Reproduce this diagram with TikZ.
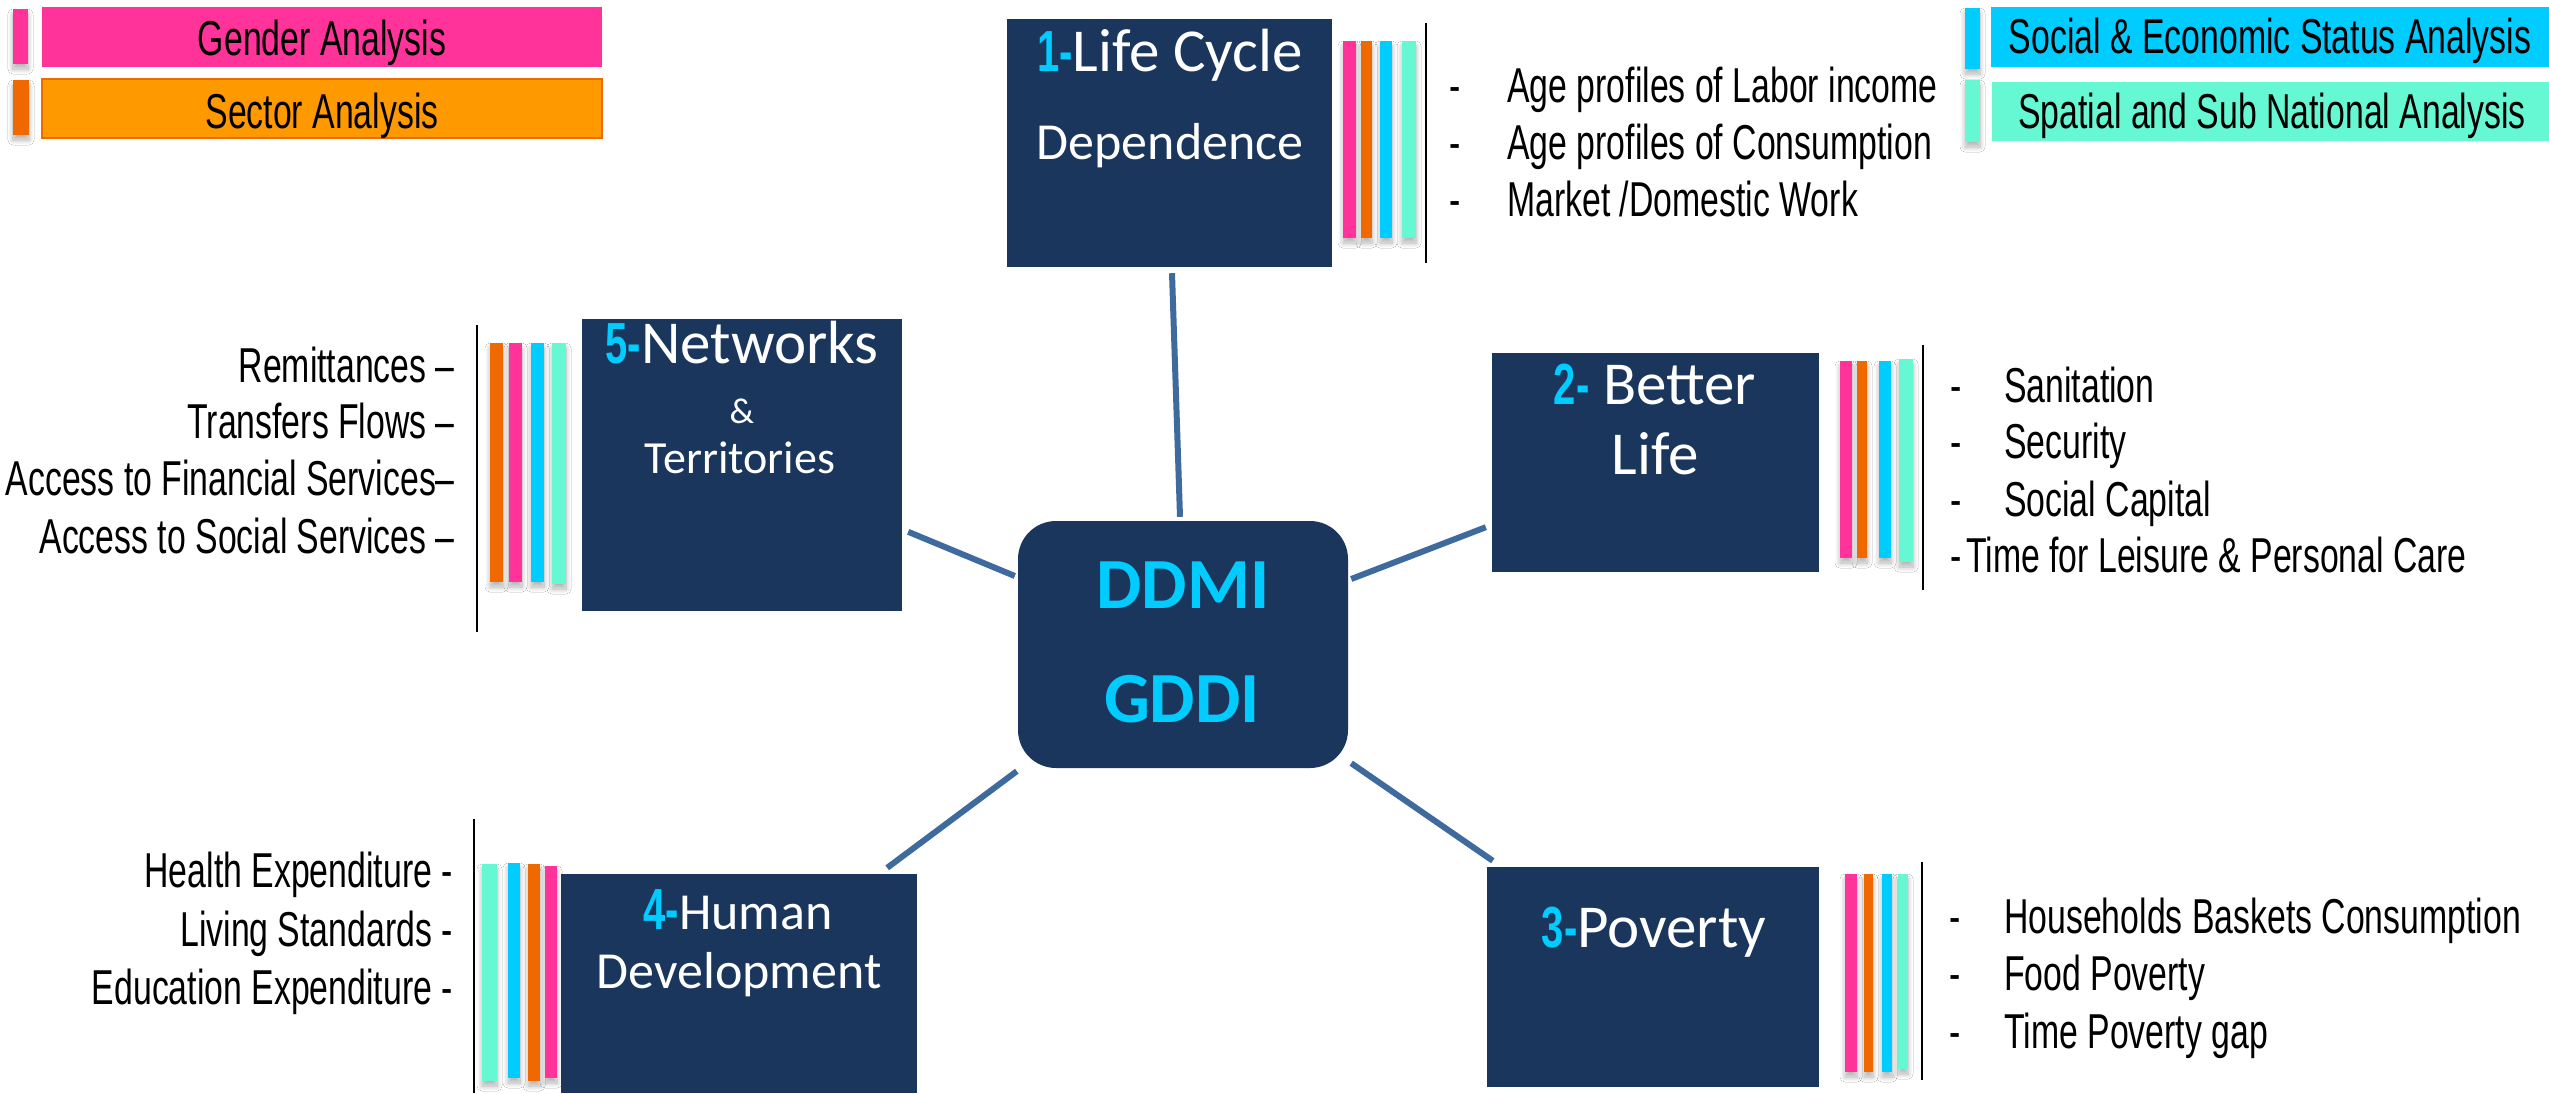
\documentclass[tikz,border=0pt]{standalone}
\usepackage{fontspec}
\setmainfont{Carlito}
\newfontfamily\agency[FakeStretch=0.69]{Liberation Sans}
\usetikzlibrary{calc,shadows.blur}

\definecolor{navy}{RGB}{26,54,93}
\definecolor{linkc}{RGB}{62,106,158}
\definecolor{pinkc}{RGB}{255,51,153}
\definecolor{orangec}{RGB}{240,104,0}
\definecolor{ambc}{RGB}{255,153,0}
\definecolor{cyanc}{RGB}{0,204,255}
\definecolor{mintc}{RGB}{102,247,211}

% cyan step number in front of a box title
\newcommand\stepno[1]{{\color{cyanc}\agency\bfseries\fontsize{58}{58}\selectfont #1}}
\newcommand\fsz[1]{\fontsize{#1}{#1}\selectfont}

\tikzset{
  box/.style={fill=navy, draw=none, inner sep=0pt},
  link/.style={draw=linkc, line width=6pt},
  bar/.style={blur shadow={shadow xshift=0pt, shadow yshift=-5pt,
      shadow blur radius=5pt, shadow blur steps=12, shadow opacity=30}},
  sepline/.style={draw=black, line width=2pt},
  item/.style={font=\agency\fsz{49}, inner sep=0pt, anchor=base west},
  ritem/.style={font=\agency\fsz{49}, inner sep=0pt, anchor=base east},
  legtext/.style={font=\agency\fsz{49}, inner sep=0pt, anchor=base},
  title/.style={text=white, inner sep=0pt, anchor=base},
  core/.style={text=cyanc, inner sep=0pt, anchor=base, font=\bfseries\fsz{72}},
}

\begin{document}
\begin{tikzpicture}[x=1pt, y=-1pt]
\useasboundingbox (0,0) rectangle (2549,1093);
\fill[white] (0,0) rectangle (2549,1093);

% ---------- legend ----------
\fill[pinkc, bar] (13,9) rectangle (28,64);
\node[fill=pinkc, inner sep=0pt, minimum width=560pt, minimum height=60pt] (legG) at (322,37) {};
\node[legtext] (legGt) at (322,55) {Gender Analysis};

\fill[orangec, bar] (13,80) rectangle (29,135);
\node[fill=ambc, draw=orangec, line width=1.5pt, inner sep=0pt, minimum width=560pt, minimum height=59pt] (legS) at (322,108.5) {};
\node[legtext] (legSt) at (322,128) {Sector Analysis};

\fill[cyanc, bar] (1965,8) rectangle (1980,69);
\node[fill=cyanc, inner sep=0pt, minimum width=558pt, minimum height=60pt] (legE) at (2270,37) {};
\node[legtext] (legEt) at (2270,53) {Social \& Economic Status Analysis};

\fill[mintc, bar] (1965,80) rectangle (1980,142);
\node[fill=mintc, inner sep=0pt, minimum width=557pt, minimum height=59pt] (legP) at (2270.5,111.5) {};
\node[legtext] (legPt) at (2272,128) {Spatial and Sub National Analysis};

% ---------- boxes ----------
\node[box, minimum width=330pt, minimum height=247pt, rounded corners=38pt] (ctr) at (1183,644.5) {};
\node[box, minimum width=325pt, minimum height=248pt] (b1) at (1169.5,143) {};
\node[box, minimum width=327pt, minimum height=219pt] (b2) at (1655.5,462.5) {};
\node[box, minimum width=332pt, minimum height=220pt] (b3) at (1653,977) {};
\node[box, minimum width=356pt, minimum height=219pt] (b4) at (739,983.5) {};
\node[box, minimum width=320pt, minimum height=292pt] (b5) at (742,465) {};

% ---------- connectors ----------
\draw[link] ($(b1.south)+(2.5,6)$) -- ($(ctr.north)+(-3,-4)$);
\draw[link] ($(ctr.east)+(3,-65.5)$) -- ($(b2.south west)+(-6,-45)$);
\draw[link] ($(ctr.south east)+(3,-5)$) -- ($(b3.north west)+(6,-6)$);
\draw[link] ($(ctr.south west)+(-1,3)$) -- ($(b4.north east)+(-30,-6)$);
\draw[link] ($(b5.north east)+(6,213)$) -- ($(ctr.west)+(-3,-68.5)$);

% ---------- titles ----------
\node[core] (ddmi) at (1183,608) {DDMI};
\node[core] (gddi) at (1182,722) {GDDI};

\node[title, font=\fsz{61}] (t1a) at (1170,71) {\stepno{1-}Life Cycle};
\node[title, font=\fsz{52}] (t1b) at (1170,159) {Dependence};

\node[title, font=\fsz{61}] (t2a) at (1655,404) {\stepno{2-} Better};
\node[title, font=\fsz{61}] (t2b) at (1655,474) {Life};

\node[title, font=\fsz{61}] (t3a) at (1654,947) {\stepno{3-}Poverty};

\node[title, font=\fsz{52}] (t4a) at (738,929) {\stepno{4-}Human};
\node[title, font=\fsz{52}] (t4b) at (739,988) {Development};

\node[title, font=\fsz{61}] (t5a) at (742,363) {\stepno{5-}Networks};
\node[title, font=\fsz{36}] (t5b) at (742,423) {\&};
\node[title, font=\fsz{46}] (t5c) at (740,473) {Territories};

% ---------- indicator bars and separators ----------
% Life cycle
\fill[pinkc, bar]   (1343,41) rectangle (1356,238);
\fill[orangec, bar] (1361,41) rectangle (1372,238);
\fill[cyanc, bar]   (1380,41) rectangle (1392,238);
\fill[mintc, bar]   (1402,41) rectangle (1416,238);
\draw[sepline] (1426,23) -- (1426,263);
% Better life
\fill[pinkc, bar]   (1840,361) rectangle (1852,558);
\fill[orangec, bar] (1857,361) rectangle (1867,558);
\fill[cyanc, bar]   (1879,361) rectangle (1891,558);
\fill[mintc, bar]   (1899,359) rectangle (1913,562);
\draw[sepline] (1923,345) -- (1923,590);
% Poverty
\fill[pinkc, bar]   (1845,874) rectangle (1857,1072);
\fill[orangec, bar] (1864,874) rectangle (1873,1072);
\fill[cyanc, bar]   (1882,874) rectangle (1892,1072);
\fill[mintc, bar]   (1898,874) rectangle (1908,1069);
\draw[sepline] (1922,862) -- (1922,1080);
% Human development
\fill[mintc, bar]   (482,864) rectangle (497,1081);
\fill[cyanc, bar]   (508,863) rectangle (520,1078);
\fill[orangec, bar] (528,864) rectangle (540,1081);
\fill[pinkc, bar]   (545,866) rectangle (557,1078);
\draw[sepline] (474,819) -- (474,1093);
% Networks
\fill[orangec, bar] (490,343) rectangle (503,582);
\fill[pinkc, bar]   (509,343) rectangle (522,582);
\fill[cyanc, bar]   (531,343) rectangle (544,582);
\fill[mintc, bar]   (552,343) rectangle (566,584);
\draw[sepline] (477,325) -- (477,632);

% ---------- item lists ----------
\node[item] (i11) at (1449,102) {\makebox[58pt][l]{-}Age profiles of Labor income};
\node[item] (i12) at (1449,159) {\makebox[58pt][l]{-}Age profiles of Consumption};
\node[item] (i13) at (1449,216) {\makebox[58pt][l]{-}Market /Domestic Work};

\node[item] (i21) at (1950,402) {\makebox[54pt][l]{-}Sanitation};
\node[item] (i22) at (1950,458) {\makebox[54pt][l]{-}Security};
\node[item] (i23) at (1950,516) {\makebox[54pt][l]{-}Social Capital};
\node[item] (i24) at (1950,572) {\makebox[16pt][l]{-}Time for Leisure \& Personal Care};

\node[item] (i31) at (1949,933) {\makebox[55pt][l]{-}Households Baskets Consumption};
\node[item] (i32) at (1949,990) {\makebox[55pt][l]{-}Food Poverty};
\node[item] (i33) at (1949,1048) {\makebox[55pt][l]{-}Time Poverty gap};

\node[ritem] (i41) at (453,887) {Health Expenditure -};
\node[ritem] (i42) at (453,946) {Living Standards -};
\node[ritem] (i43) at (453,1004) {Education Expenditure -};

\node[ritem] (i51) at (455,382) {Remittances –};
\node[ritem] (i52) at (455,438) {Transfers Flows –};
\node[ritem] (i53) at (455,495) {Access to Financial Services–};
\node[ritem] (i54) at (455,553) {Access to Social Services –};
\end{tikzpicture}
\end{document}
